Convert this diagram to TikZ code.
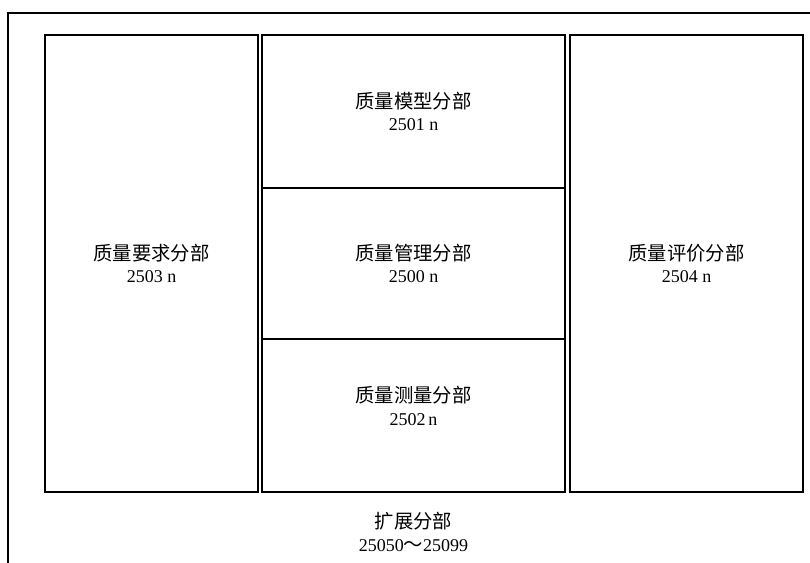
\documentclass[tikz,border=0pt]{standalone}
\usepackage{fontspec}
\setmainfont{Liberation Serif}
\newfontfamily\cjk{Noto Sans CJK SC}
\usetikzlibrary{positioning}
\newcommand{\zhtext}[1]{{\cjk\fontsize{14.5}{17}\selectfont #1}}
\tikzset{frame/.style={draw, line width=2.2pt}}

\begin{document}
\begin{tikzpicture}[node distance = 3pt, font=\fontsize{13.5}{17}\selectfont]
\tikzstyle{block} = [rectangle, draw, line width=2pt, outer sep=0pt, align=center]
\tikzstyle{Text} = [rectangle, inner sep=0pt, align=center]

\useasboundingbox (0,0) rectangle (607.5pt,-422.25pt);
\draw [frame] (612pt,-9.75pt) -| (6pt,-426pt);

\node [block, minimum width=159.75pt, minimum height=342.75pt, anchor=north west](req) at (33.75pt,-26.25pt){\zhtext{质量要求分部}\\2503 n};
\node [block, right=3pt of req.north east, anchor=north west, minimum width=227.25pt, minimum height=114.75pt](mod){\zhtext{质量模型分部}\\2501 n};
\node [block, below=0pt of mod, minimum width=227.25pt, minimum height=113.25pt](mgt){\zhtext{质量管理分部}\\2500 n};
\node [block, below=0pt of mgt, minimum width=227.25pt, minimum height=114.75pt, text depth=14pt](msr){\zhtext{质量测量分部}\\2502\,n};
\node [block, right=3.75pt of mod.north east, anchor=north west, minimum width=174.75pt, minimum height=342.75pt](eva){\zhtext{质量评价分部}\\2504 n};
\node [Text, below=15pt of msr](ext){\zhtext{扩展分部}\\25050\zhtext{～}25099};

\end{tikzpicture}
\end{document}
